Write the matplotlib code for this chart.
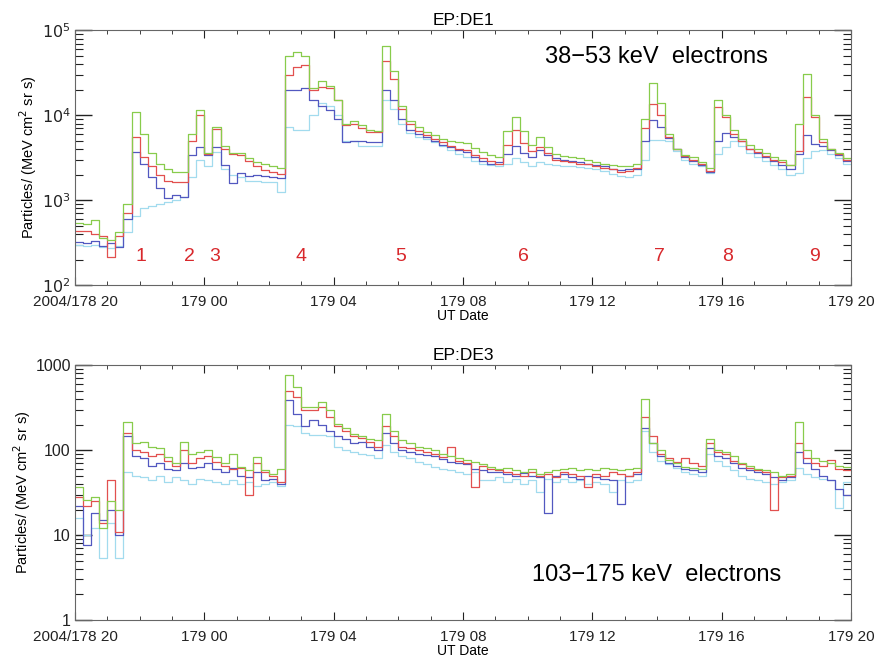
import numpy as np
import matplotlib
matplotlib.use("Agg")
import matplotlib.pyplot as plt
from matplotlib.ticker import FixedLocator, LogLocator, NullFormatter

plt.rcParams['font.family'] = ['Liberation Sans', 'DejaVu Sans']

# 15-minute bins starting at 2004/178 20:00 UT (hours after start)
bin_hours = 0.25

# EP:DE1  38-53 keV electrons
de1_green = [540, 520, 580, 360, 340, 420, 900, 11000, 6000, 3600, 2700, 2300,
             2150, 2150, 6000, 11500, 3600, 7300, 4300, 3600, 3600, 3100, 2800, 2650,
             2500, 2400, 50000, 56000, 50000, 21000, 25000, 22000, 15000, 8000, 8600, 7600,
             6800, 6600, 66000, 33000, 13000, 8500, 7200, 6400, 5800, 5200, 5000, 4800,
             4700, 4100, 3700, 3400, 3200, 6500, 9500, 6500, 4500, 5600, 4200, 3500,
             3300, 3200, 3100, 3000, 2850, 2700, 2600, 2500, 2500, 2700, 9000, 24000,
             14000, 6000, 4000, 3400, 3200, 2800, 2400, 15000, 10000, 6700, 5200, 4500,
             4000, 3600, 3200, 3000, 2600, 8000, 31000, 10000, 5200, 4000, 3600, 3100]
de1_red = [430, 430, 400, 380, 215, 380, 700, 5600, 3200, 2500, 2000, 1700,
           1650, 1650, 5000, 10000, 3500, 6900, 4000, 3500, 3400, 2900, 2500, 2250,
           2150, 2050, 30000, 37000, 39000, 20000, 21500, 21000, 15000, 7600, 8000, 7000,
           6400, 6300, 44000, 27000, 12000, 8000, 6600, 5800, 5300, 4800, 4300, 4000,
           3850, 3400, 3100, 2900, 2700, 4500, 6700, 4700, 3800, 4200, 3600, 3000,
           2900, 2800, 2700, 2650, 2500, 2400, 2300, 2150, 2200, 2400, 7000, 13700,
           10000, 5500, 4000, 3300, 3000, 2700, 2200, 12500, 9500, 6000, 5000, 4000,
           3700, 3300, 3000, 2800, 2600, 3800, 16500, 9500, 4800, 4000, 3500, 3000]
de1_blue = [320, 310, 330, 290, 310, 280, 600, 3700, 2700, 1900, 1400, 1050,
            1150, 1100, 3400, 4200, 3400, 4200, 2600, 1600, 2100, 1950, 2000, 1950,
            1900, 1850, 20000, 20000, 21000, 15000, 13000, 11500, 9000, 4800, 5000, 5000,
            4800, 4800, 20000, 15000, 9000, 6800, 6000, 5500, 5000, 4500, 4200, 3900,
            3700, 3200, 2900, 2700, 2800, 3500, 4400, 3600, 3200, 3900, 3400, 3100,
            3000, 2900, 2800, 2700, 2600, 2500, 2350, 2250, 2300, 2300, 5000, 8700,
            7300, 5400, 4000, 3200, 2900, 2600, 2150, 5000, 6200, 5600, 5000, 4000,
            3600, 3200, 2900, 2600, 2300, 3500, 5800, 4600, 4300, 3900, 3400, 2900]
de1_cyan = [300, 290, 300, 280, 270, 290, 420, 650, 800, 850, 900, 950,
            1000, 1100, 1900, 3000, 2500, 3700, 2300, 2000, 1900, 1700, 1700, 1650,
            1650, 1250, 7300, 6700, 6700, 10000, 14000, 13000, 10000, 5000, 5000, 4400,
            4400, 4400, 15000, 12000, 8000, 6200, 5600, 5200, 4800, 4300, 3900, 3500,
            3200, 2900, 2700, 2600, 2500, 2700, 3100, 2800, 2500, 2800, 2700, 2600,
            2500, 2500, 2450, 2400, 2300, 2200, 2050, 1950, 1900, 2000, 3000, 5100,
            5100, 5000, 3800, 3000, 2700, 2500, 2100, 3500, 4200, 5000, 4300, 3600,
            3200, 2900, 2600, 2300, 2000, 2100, 3100, 3800, 3900, 3500, 3100, 2700]

# EP:DE3  103-175 keV electrons
de3_green = [37, 26, 28, 12, 25, 20, 215, 120, 125, 110, 105, 82,
             70, 125, 90, 95, 100, 83, 70, 90, 64, 58, 83, 58,
             53, 60, 760, 560, 320, 320, 370, 295, 205, 180, 155, 145,
             137, 130, 270, 170, 130, 120, 110, 105, 100, 90, 85, 80,
             77, 72, 68, 64, 60, 62, 58, 55, 60, 53, 56, 58,
             60, 62, 58, 60, 58, 62, 60, 58, 60, 62, 400, 120,
             100, 77, 70, 64, 62, 60, 137, 100, 95, 85, 70, 65,
             60, 58, 55, 50, 52, 215, 100, 80, 75, 70, 65, 64]
de3_red = [28, 22, 25, 14, 44, 11, 160, 100, 95, 85, 90, 75,
           65, 100, 70, 80, 85, 72, 65, 60, 62, 30, 70, 55,
           50, 42, 500, 420, 295, 295, 320, 245, 190, 170, 145, 140,
           125, 110, 190, 145, 110, 105, 100, 95, 90, 83, 110, 75,
           70, 37, 65, 60, 58, 55, 52, 50, 55, 50, 52, 48,
           55, 52, 50, 37, 52, 50, 55, 52, 50, 55, 245, 145,
           90, 80, 72, 80, 70, 65, 120, 95, 90, 75, 68, 62,
           58, 55, 20, 48, 50, 120, 80, 70, 65, 77, 60, 58]
de3_blue = [22, 7.6, 18, 15, 20, 10, 145, 85, 80, 65, 70, 60,
            58, 70, 62, 64, 70, 60, 55, 62, 50, 48, 55, 45,
            46, 40, 390, 270, 190, 225, 200, 170, 145, 135, 120, 125,
            110, 100, 160, 120, 100, 95, 90, 88, 85, 78, 72, 70,
            68, 60, 58, 55, 55, 52, 50, 54, 50, 48, 18, 50,
            52, 48, 46, 50, 48, 46, 44, 23, 50, 52, 180, 120,
            85, 70, 65, 60, 58, 55, 105, 85, 80, 70, 62, 58,
            55, 52, 48, 45, 48, 95, 70, 60, 50, 45, 35, 30]
de3_cyan = [16, 10, 12, 5.3, 14, 5.3, 55, 50, 48, 45, 50, 42,
            48, 44, 40, 46, 45, 42, 40, 44, 40, 42, 38, 40,
            42, 38, 200, 190, 160, 150, 150, 145, 110, 100, 95, 90,
            88, 80, 115, 95, 85, 80, 72, 68, 64, 60, 58, 55,
            52, 55, 45, 44, 48, 42, 46, 40, 44, 32, 46, 42,
            46, 42, 44, 40, 42, 40, 32, 45, 42, 44, 170, 95,
            75, 68, 62, 55, 52, 50, 90, 75, 65, 58, 50, 46,
            44, 42, 40, 42, 44, 62, 52, 48, 46, 44, 21, 42]

event_labels = ['1', '2', '3', '4', '5', '6', '7', '8', '9']
event_hours = [2.04, 3.53, 4.33, 7.0, 10.06, 13.87, 18.08, 20.19, 22.88]

tick_hours = [0, 4, 8, 12, 16, 20, 24]
tick_labels = ['2004/178 20', '179 00', '179 04', '179 08', '179 12', '179 16', '179 20']

colors = {'green': '#88cc4c', 'red': '#e2504f', 'blue': '#5258c0', 'cyan': '#a2dbee'}


def draw_panel(ax, series, ylim, title, yticks, yticklabels, note, note_y):
    t = np.arange(len(series[0]) + 1) * bin_hours
    for name, vals in zip(['cyan', 'blue', 'red', 'green'], series[::-1]):
        v = list(vals) + [vals[-1]]
        ax.step(t, v, where='post', color=colors[name], lw=0.9)
    ax.set_yscale('log')
    ax.set_ylim(*ylim)
    ax.set_xlim(0, 24)
    ax.xaxis.set_major_locator(FixedLocator(tick_hours))
    ax.set_xticklabels(tick_labels)
    ax.xaxis.set_minor_locator(FixedLocator(np.arange(0, 25, 1)))
    ax.yaxis.set_major_locator(FixedLocator(yticks))
    ax.set_yticklabels(yticklabels)
    ax.yaxis.set_minor_locator(LogLocator(base=10, subs=np.arange(2, 10)))
    ax.yaxis.set_minor_formatter(NullFormatter())
    ax.tick_params(which='both', direction='in', top=True, right=True, labelsize=11.5, colors='#222222')
    ax.tick_params(axis='y', which='major', length=12, width=1, pad=3)
    ax.tick_params(axis='y', which='minor', length=6, width=0.8)
    ax.tick_params(axis='x', which='major', length=6, pad=7, labelsize=11)
    ax.tick_params(axis='x', which='minor', length=3)
    for s in ax.spines.values():
        s.set_color('#666666')
    ax.set_title(title, fontsize=12.5, pad=4)
    ax.set_xlabel('UT Date', fontsize=10, labelpad=0)
    ax.set_ylabel('Particles/ (MeV cm$^2$ sr s)', fontsize=10.5, labelpad=2)
    ax.text(0.749, note_y, note, transform=ax.transAxes, fontsize=17,
            ha='center', va='center')


fig = plt.figure(figsize=(8.77, 6.6), dpi=100)
ax1 = fig.add_axes([0.0855, 0.568, 0.885, 0.386])
ax2 = fig.add_axes([0.0855, 0.0606, 0.885, 0.386])

draw_panel(ax1, [de1_green, de1_red, de1_blue, de1_cyan], (1e2, 1e5), 'EP:DE1',
           [1e2, 1e3, 1e4, 1e5], ['$10^2$', '$10^3$', '$10^4$', '$10^5$'],
           '38\u221253 keV  electrons', 0.894)
draw_panel(ax2, [de3_green, de3_red, de3_blue, de3_cyan], (1, 1000), 'EP:DE3',
           [1, 10, 100, 1000], ['1', '10', '100', '1000'],
           '103\u2212175 keV  electrons', 0.176)

for lab, h in zip(event_labels, event_hours):
    ax1.text(h, 220, lab, color='#d8282c', fontsize=14, ha='center', va='center')

fig.savefig('out.png', dpi=100)
